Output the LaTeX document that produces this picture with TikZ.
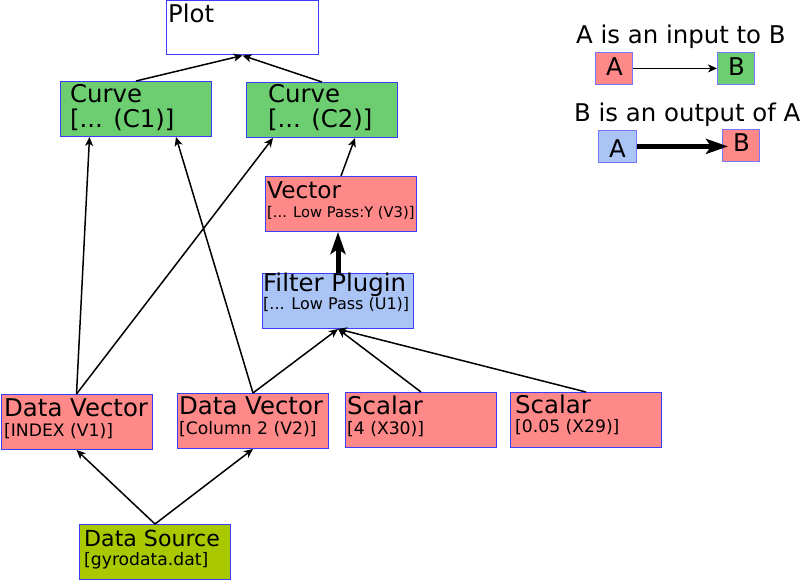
\documentclass[tikz,border=0pt]{standalone}
\usepackage{fontspec}
\setmainfont{DejaVu Sans}
\usetikzlibrary{arrows.meta}
\definecolor{vecred}{RGB}{255,136,136}
\definecolor{curvegreen}{RGB}{108,206,112}
\definecolor{plugblue}{RGB}{170,196,245}
\definecolor{srcolive}{RGB}{170,200,0}
\definecolor{edgeblue}{RGB}{60,60,255}
\begin{document}
\begin{tikzpicture}[x=1pt,y=-1pt,
  box/.style={draw=edgeblue, line width=1pt, minimum width=151pt, minimum height=55pt, inner sep=0pt, anchor=north west},
  lbox/.style={draw=edgeblue!70!white, line width=0.8pt, minimum width=37pt, minimum height=32pt, inner sep=0pt, anchor=north west},
  big/.style={anchor=base west, inner sep=0pt, font=\fontsize{24.4}{28}\selectfont},
  small/.style={anchor=base west, inner sep=0pt, font=\fontsize{17.2}{20}\selectfont},
  conn/.style={line width=1.5pt, -{Stealth[length=9pt,width=8pt,inset=2.5pt]}},
  outconn/.style={line width=5pt, -{Stealth[length=22pt,width=15pt,inset=5pt]}}
]
\useasboundingbox (0,0) rectangle (804,580);

% boxes
\node[box, fill=white, minimum width=152pt, minimum height=54pt] (plot) at (166,0.5) {};
\node[box, fill=curvegreen] (c1) at (60,81) {};
\node[box, fill=curvegreen] (c2) at (246,82) {};
\node[box, fill=vecred] (v3) at (265,176) {};
\node[box, fill=plugblue] (fp) at (262,273) {};
\node[box, fill=vecred] (v1) at (0.5,394) {};
\node[box, fill=vecred] (v2) at (177,393) {};
\node[box, fill=vecred] (x30) at (345,392) {};
\node[box, fill=vecred] (x29) at (510,392) {};
\node[box, fill=srcolive] (ds) at (79,524) {};

% texts
\node[big] (plott) at (168,23) {Plot};
\node[big] (c1a) at (70,103) {Curve};
\node[big] (c1b) at (70,128) {[... (C1)]};
\node[big] (c2a) at (268,103) {Curve};
\node[big] (c2b) at (268,128) {[... (C2)]};
\node[big, font=\fontsize{23.2}{28}\selectfont] (v3a) at (267,199) {Vector};
\node[small, font=\fontsize{14.7}{18}\selectfont] (v3b) at (267,218) {[... Low Pass:Y (V3)]};
\node[big] (fpa) at (263,292) {Filter Plugin};
\node[small, font=\fontsize{16}{19}\selectfont] (fpb) at (263,310) {[... Low Pass (U1)]};
\node[big] (v1a) at (4,417) {Data Vector};
\node[small] (v1b) at (4,436) {[INDEX (V1)]};
\node[big] (v2a) at (179,414) {Data Vector};
\node[small] (v2b) at (179,434) {[Column 2 (V2)]};
\node[big] (x30a) at (347,414) {Scalar};
\node[small] (x30b) at (347,434) {[4 (X30)]};
\node[big] (x29a) at (515,413) {Scalar};
\node[small] (x29b) at (515,432) {[0.05 (X29)]};
\node[big, font=\fontsize{22.1}{26}\selectfont] (dsa) at (84,546) {Data Source};
\node[small] (dsb) at (84,565) {[gyrodata.dat]};

% connectors
\draw[conn] (c1.north) -- (plot.south);
\draw[conn] (c2.north) -- (plot.south);
\draw[conn] (v1.north) -- ([xshift=-46.5pt]c1.south);
\draw[conn] (v2.north) -- ([xshift=40pt]c1.south);
\draw[conn] (v1.north) -- ([xshift=-49pt]c2.south);
\draw[conn] (v3.north) -- ([xshift=33pt]c2.south);
\draw[outconn] (fp.north) -- (fp.north |- v3.south);
\draw[conn] (v2.north) -- (fp.south);
\draw[conn] (x30.north) -- (fp.south);
\draw[conn] (x29.north) -- (fp.south);
\draw[conn] (ds.north) -- (v1.south);
\draw[conn] (ds.north) -- (v2.south);

% legend
\node[big] (lt1) at (576,44) {A is an input to B};
\node[lbox, fill=vecred] (la) at (595,52) {};
\node[lbox, fill=curvegreen] (lb) at (717,52) {};
\node[big] (lat) at (606,76) {A};
\node[big] (lbt) at (728,76) {B};
\draw[conn] (la.east) -- (lb.west);

\node[big] (lt2) at (574,122) {B is an output of A};
\node[lbox, fill=plugblue, minimum width=38pt] (la2) at (598,130) {};
\node[lbox, fill=vecred] (lb2) at (722,129) {};
\node[big] (la2t) at (609,158) {A};
\node[big] (lb2t) at (733,152) {B};
\draw[outconn] (la2.east) -- ([xshift=6pt]lb2.west |- la2.east);
\end{tikzpicture}
\end{document}
